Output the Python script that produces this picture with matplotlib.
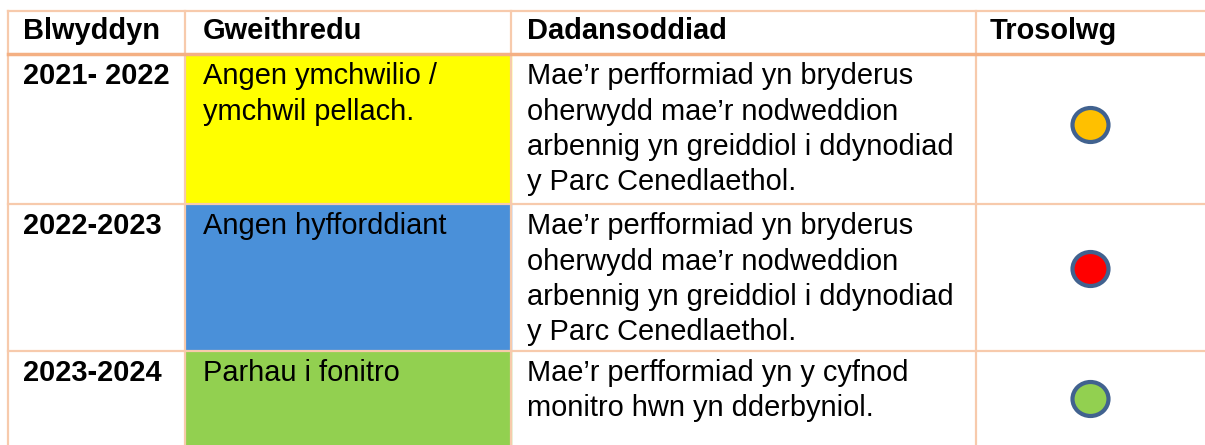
import matplotlib.pyplot as plt
from matplotlib.patches import Rectangle, Ellipse

# data
headers = ['Blwyddyn', 'Gweithredu', 'Dadansoddiad', 'Trosolwg']
years = ['2021- 2022', '2022-2023', '2023-2024']
actions = [['Angen ymchwilio /', 'ymchwil pellach.'],
           ['Angen hyfforddiant'],
           ['Parhau i fonitro']]
action_colors = ['#FFFF00', '#4A90D9', '#92D050']
analysis = [['Mae’r perfformiad yn bryderus', 'oherwydd mae’r nodweddion',
             'arbennig yn greiddiol i ddynodiad', 'y Parc Cenedlaethol.'],
            ['Mae’r perfformiad yn bryderus', 'oherwydd mae’r nodweddion',
             'arbennig yn greiddiol i ddynodiad', 'y Parc Cenedlaethol.'],
            ['Mae’r perfformiad yn y cyfnod', 'monitro hwn yn dderbyniol.']]
status_colors = ['#FFC000', '#FF0000', '#92D050']

# layout (pixels)
W, H = 1205, 445
col_x = [7.5, 185, 511, 976, W]
text_x = [23, 203, 527, 990]
top_y = 11
head_y = 54
row_y = [54, 204, 351, H]
dot_off = [71, 65, 48]
line_h = 35.5
fs = 20.9
thin = '#F7CAAC'
thick = '#F4B083'

fig = plt.figure(figsize=(W / 100, H / 100), dpi=100)
ax = fig.add_axes([0, 0, 1, 1])
ax.set_xlim(0, W)
ax.set_ylim(H, 0)
ax.axis('off')

# coloured cells
for i, c in enumerate(action_colors):
    ax.add_patch(Rectangle((col_x[1], row_y[i]), col_x[2] - col_x[1],
                           row_y[i + 1] - row_y[i], color=c, zorder=1))

# grid lines
ax.plot([col_x[0], W], [top_y, top_y], color=thin, lw=1.6, zorder=3)
for y in row_y[1:3]:
    ax.plot([col_x[0], W], [y, y], color=thin, lw=1.6, zorder=3)
for x in col_x[:4]:
    ax.plot([x, x], [top_y, H], color=thin, lw=1.6, zorder=3)
ax.plot([col_x[0], W], [head_y, head_y], color=thick, lw=2.5, zorder=4)

font = dict(family='Liberation Sans', fontsize=fs, va='baseline', ha='left',
            color='black', zorder=5)

for x, h in zip(text_x, headers):
    ax.text(x, 39, h, fontweight='bold', **font)

for i in range(len(years)):
    base = row_y[i] + 30
    ax.text(text_x[0], base, years[i], fontweight='bold', **font)
    for k, line in enumerate(actions[i]):
        ax.text(text_x[1], base + k * line_h, line, **font)
    for k, line in enumerate(analysis[i]):
        ax.text(text_x[2], base + k * line_h, line, **font)
    cx = (col_x[3] + col_x[4]) / 2
    ax.add_patch(Ellipse((cx, row_y[i] + dot_off[i]), 36, 34,
                         facecolor=status_colors[i], edgecolor='#41628F',
                         lw=3, zorder=6))

fig.savefig('out.png', dpi=100)
